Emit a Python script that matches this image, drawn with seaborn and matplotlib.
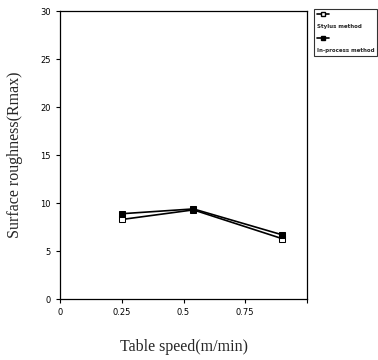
import matplotlib
matplotlib.use("Agg")
import matplotlib.pyplot as plt
import pandas as pd
import seaborn as sns

speeds = [0.25, 0.54, 0.90]
stylus = [8.3, 9.3, 6.3]
in_process = [8.9, 9.4, 6.7]
methods = ["Stylus method", "In-process method"]

df = pd.DataFrame({
    "speed": speeds * 2,
    "rmax": stylus + in_process,
    "method": [methods[0]] * 3 + [methods[1]] * 3,
})

sns.set_style("ticks")
f = plt.figure(figsize=(3.78, 3.6), dpi=100)
ax = f.add_axes([0.159, 0.169, 0.653, 0.8])
sns.lineplot(
    df, ax=ax, x="speed", y="rmax", hue="method", style="method",
    palette=["black", "black"], markers=["s", "s"], dashes=False,
    linewidth=1.2, markersize=4, legend=False,
)
for line, fc in zip(ax.lines, ["white", "black"]):
    line.set_markerfacecolor(fc)
    line.set_markeredgecolor("black")

ax.set_xlim(0, 1)
ax.set_ylim(0, 30)
ax.set_xticks([0, 0.25, 0.5, 0.75, 1])
ax.set_xticklabels(["0", "0.25", "0.5", "0.75", ""])
ax.set_yticks([0, 5, 10, 15, 20, 25, 30])
ax.tick_params(labelsize=6, length=3, width=0.8, colors="black")
for s in ax.spines.values():
    s.set_color("black")
    s.set_linewidth(0.9)

ax.set_xlabel("Table speed(m/min)", family="Liberation Serif", fontsize=11.5, labelpad=16)
ax.set_ylabel("Surface roughness(Rmax)", family="Liberation Serif", fontsize=11.5)
ax.yaxis.set_label_coords(-0.15, 0.5)

# legend box outside right: marker on one row, name on the row below
handles = [
    plt.Line2D([], [], color="black", marker="s", markerfacecolor="white", markersize=3.5, lw=1.2),
    plt.Line2D([], [], alpha=0),
    plt.Line2D([], [], color="black", marker="s", markerfacecolor="black", markersize=3.5, lw=1.2),
    plt.Line2D([], [], alpha=0),
]
labels = ["", methods[0], "", methods[1]]
leg = f.legend(
    handles, labels, loc="upper left", bbox_to_anchor=(0.83, 0.975),
    prop={"size": 4.0, "weight": "bold"}, frameon=True, fancybox=False,
    edgecolor="black", handlelength=2.2, handletextpad=-2.2, borderpad=0.5,
    borderaxespad=0, labelspacing=1.3,
)
leg.get_frame().set_linewidth(0.8)

f.savefig("out.png", dpi=100)
